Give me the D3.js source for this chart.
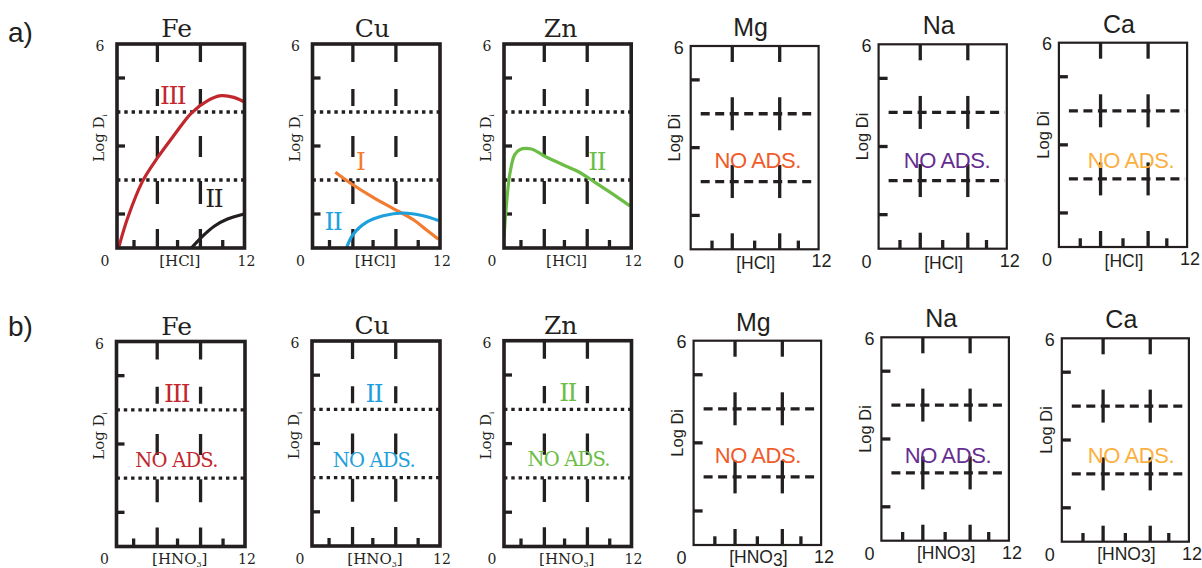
<!DOCTYPE html>
<html><head><meta charset="utf-8">
<script src="https://cdn.jsdelivr.net/npm/d3@7"></script>
<style>body{margin:0;background:#fff}svg{display:block}</style>
</head><body>
<svg id="chart" width="1202" height="568"></svg>
<script>
// ---------------- data ----------------
const elements = ["Fe", "Cu", "Zn", "Mg", "Na", "Ca"];
const rowTags = ["a)", "b)"];
const acidNames = ["HCl", "HNO"];      // row b gets subscript 3
const acidSub = ["", "3"];
const xDomain = [0, 12];
const yDomain = [0, 6];
const xEndLabels = ["0", "12"];
const yTopLabel = "6";
const yAxisTitle = "Log D";
const yAxisSub = "i";
const noAdsText = "NO ADS.";
const yTicks = [1, 3, 5];
const dividers = [2, 4];
const serifMajorX = [3.8, 7.85];
const serifMinorX = [1.6, 5.7, 9.95];
const sansMajorX = [3.9, 8.35];
const sansMinorX = [2, 6, 10.1];

// row a curves (HCl)
const feIII_x = [0.15, 1.0, 2.4, 3.8, 5.4, 7.0, 8.5, 9.8, 11.0, 11.95];
const feIII_y = [0.0, 0.88, 1.96, 2.65, 3.33, 3.97, 4.33, 4.48, 4.43, 4.3];
const feII_x = [7.0, 7.9, 9.15, 10.4, 11.95];
const feII_y = [0.0, 0.3, 0.64, 0.85, 1.0];
const cuI_x = [2.15, 3.8, 5.7, 7.6, 9.5, 10.7, 11.85];
const cuI_y = [2.23, 1.86, 1.49, 1.16, 0.83, 0.54, 0.26];
const cuII_x = [3.2, 3.8, 5.1, 6.65, 8.55, 10.4, 11.85];
const cuII_y = [0.0, 0.39, 0.76, 0.95, 1.03, 0.95, 0.81];
const znII_x = [0.0, 0.23, 0.54, 1.0, 1.48, 2.58, 3.84, 5.41, 6.98, 8.55, 10.1, 11.87];
const znII_y = [0.3, 1.27, 2.16, 2.74, 2.89, 2.91, 2.7, 2.47, 2.25, 1.94, 1.62, 1.24];

const curves = [
  {row: 0, el: "Fe", key: "FeIII", xs: feIII_x, ys: feIII_y},
  {row: 0, el: "Fe", key: "FeII",  xs: feII_x,  ys: feII_y},
  {row: 0, el: "Cu", key: "CuI",   xs: cuI_x,   ys: cuI_y},
  {row: 0, el: "Cu", key: "CuII",  xs: cuII_x,  ys: cuII_y},
  {row: 0, el: "Zn", key: "ZnII",  xs: znII_x,  ys: znII_y}
];
// curve / zone labels, positions in data units
const zoneLabels = [
  {row: 0, el: "Fe", key: "FeIII", text: "III", x: 5.24, y: 4.49},
  {row: 0, el: "Fe", key: "FeII",  text: "II",  x: 9.1,  y: 1.47},
  {row: 0, el: "Cu", key: "CuI",   text: "I",   x: 4.5,  y: 2.55},
  {row: 0, el: "Cu", key: "CuII",  text: "II",  x: 1.93, y: 0.8},
  {row: 0, el: "Zn", key: "ZnII",  text: "II",  x: 8.75, y: 2.57},
  {row: 1, el: "Fe", key: "FeIII", text: "III", x: 5.6,  y: 4.49},
  {row: 1, el: "Cu", key: "CuII",  text: "II",  x: 5.79, y: 4.47},
  {row: 1, el: "Zn", key: "ZnII",  text: "II",  x: 5.98, y: 4.49}
];
const noAdsLabels = [
  {row: 1, el: "Fe", key: "FeIII", x: 5.6,  y: 2.54},
  {row: 1, el: "Cu", key: "CuII",  x: 5.79, y: 2.52},
  {row: 1, el: "Zn", key: "ZnII",  x: 6.08, y: 2.54},
  {row: 0, el: "Mg", key: "Mg", x: 6.3,  y: 2.63},
  {row: 0, el: "Na", key: "Na", x: 6.4,  y: 2.6},
  {row: 0, el: "Ca", key: "Ca", x: 6.75, y: 2.56},
  {row: 1, el: "Mg", key: "Mg", x: 6.05, y: 2.64},
  {row: 1, el: "Na", key: "Na", x: 6.26, y: 2.53},
  {row: 1, el: "Ca", key: "Ca", x: 6.53, y: 2.55}
];

// ---------------- styles / layout ----------------
const colors = {FeIII: "#c1272d", FeII: "#231f20", CuI: "#f27c30", CuII: "#1ea0dc",
  ZnII: "#6cbd45", Mg: "#f15a29", Na: "#662d91", Ca: "#fbb040"};
const ink = "#231f20";
const SERIF = "'DejaVu Serif', serif";
const SANS = "'Liberation Sans', Arial, sans-serif";
const serifBoxes = [
  [{x0: 117, x1: 244.5, y0: 44, y1: 248}, {x0: 312.5, x1: 440, y0: 44, y1: 248}, {x0: 504, x1: 631.2, y0: 44, y1: 248}],
  [{x0: 116.5, x1: 245, y0: 341.5, y1: 546.5}, {x0: 312, x1: 440, y0: 341, y1: 546}, {x0: 504, x1: 631.5, y0: 340.7, y1: 546.5}]
];
const sansBoxes = [
  [{x0: 690.7, x1: 818.6, y0: 46, y1: 249.3}, {x0: 878.6, x1: 1006.8, y0: 44.3, y1: 248.7}, {x0: 1058.9, x1: 1187.1, y0: 42.7, y1: 247}],
  [{x0: 693.6, x1: 821.1, y0: 340.7, y1: 545}, {x0: 881.4, x1: 1008.9, y0: 337.3, y1: 540.7}, {x0: 1061.8, x1: 1188.9, y0: 338.3, y1: 541.7}]
];
const serifDash = [18, 27, 17, 30, 21, 24, 23, 25, 19];

const svg = d3.select("#chart");

// row tags
rowTags.forEach((t, i) => {
  svg.append("text").attr("x", 8).attr("y", i === 0 ? 41.5 : 335.5)
    .attr("font-family", SANS).attr("font-size", 28).attr("fill", ink).text(t);
});

function addAcid(sel, row, serif) {
  sel.append("tspan").text("[" + acidNames[row]);
  if (acidSub[row]) {
    if (serif) {
      sel.append("tspan").attr("font-size", 8).attr("dy", 3).text(acidSub[row]);
      sel.append("tspan").attr("dy", -3).text("]");
    } else {
      sel.append("tspan").attr("dy", 2.5).text(acidSub[row]);
      sel.append("tspan").attr("dy", -2.5).text("]");
    }
  } else sel.append("tspan").text("]");
}

let clipId = 0;
function panel(row, col, serif) {
  const b = serif ? serifBoxes[row][col] : sansBoxes[row][col - 3];
  const el = elements[col];
  const x = d3.scaleLinear().domain(xDomain).range([b.x0, b.x1]);
  const y = d3.scaleLinear().domain(yDomain).range([b.y1, b.y0]);
  const g = svg.append("g");
  const tickW = 3.3;
  const xc = (b.x0 + b.x1) / 2, ym = (b.y0 + b.y1) / 2;

  if (serif) {
    g.selectAll(".div").data(dividers).join("line")
      .attr("x1", x(xDomain[0])).attr("x2", x(xDomain[1]))
      .attr("y1", d => y(d)).attr("y2", d => y(d))
      .attr("stroke", ink).attr("stroke-width", 3.3).attr("stroke-dasharray", "3.4,3.9");
    const k = (b.y1 - b.y0) / 204;
    g.selectAll(".maj").data(serifMajorX).join("line")
      .attr("x1", d => x(d)).attr("x2", d => x(d))
      .attr("y1", y(yDomain[1])).attr("y2", y(yDomain[0]))
      .attr("stroke", ink).attr("stroke-width", tickW)
      .attr("stroke-dasharray", serifDash.map(v => v * k).join(","));
    g.selectAll(".min").data(serifMinorX).join("line")
      .attr("x1", d => x(d)).attr("x2", d => x(d))
      .attr("y1", y(0)).attr("y2", y(0) - 8)
      .attr("stroke", ink).attr("stroke-width", tickW);
    g.selectAll(".yt").data(yTicks).join("line")
      .attr("x1", x(0)).attr("x2", x(0) + 8)
      .attr("y1", d => y(d)).attr("y2", d => y(d))
      .attr("stroke", ink).attr("stroke-width", tickW);
  } else {
    g.selectAll(".div").data(dividers).join("line")
      .attr("x1", x(xDomain[0]) + 10).attr("x2", x(xDomain[1]) - 2)
      .attr("y1", d => y(d)).attr("y2", d => y(d))
      .attr("stroke", ink).attr("stroke-width", 3.3).attr("stroke-dasharray", "9,5.5");
    sansMajorX.forEach(m => {
      const segs = [[y(yDomain[1]), y(yDomain[1]) + 16], [y(yDomain[0]) - 16, y(yDomain[0])]]
        .concat(dividers.map(d => [y(d) - 16.5, y(d) + 16.5]));
      g.selectAll(null).data(segs).join("line")
        .attr("x1", x(m)).attr("x2", x(m))
        .attr("y1", s => s[0]).attr("y2", s => s[1])
        .attr("stroke", ink).attr("stroke-width", tickW);
    });
    g.selectAll(".min").data(sansMinorX).join("line")
      .attr("x1", d => x(d)).attr("x2", d => x(d))
      .attr("y1", y(0)).attr("y2", y(0) - 8.7)
      .attr("stroke", ink).attr("stroke-width", tickW);
    g.selectAll(".yt").data(yTicks).join("line")
      .attr("x1", x(0)).attr("x2", x(0) + 9)
      .attr("y1", d => y(d)).attr("y2", d => y(d))
      .attr("stroke", ink).attr("stroke-width", tickW);
  }

  // curves
  const cid = "clip" + (clipId++);
  svg.append("clipPath").attr("id", cid).append("rect")
    .attr("x", b.x0).attr("y", b.y0).attr("width", b.x1 - b.x0).attr("height", b.y1 - b.y0);
  const line = d3.line().x(d => x(d[0])).y(d => y(d[1])).curve(d3.curveCatmullRom.alpha(0.5));
  curves.filter(c => c.row === row && c.el === el).forEach(c => {
    g.append("path").attr("d", line(c.xs.map((v, i) => [v, c.ys[i]])))
      .attr("fill", "none").attr("stroke", colors[c.key]).attr("stroke-width", 3.2)
      .attr("stroke-linecap", "butt").attr("clip-path", `url(#${cid})`);
  });

  // box
  g.append("rect").attr("x", b.x0).attr("y", b.y0)
    .attr("width", b.x1 - b.x0).attr("height", b.y1 - b.y0)
    .attr("fill", "none").attr("stroke", ink).attr("stroke-width", serif ? 3.6 : 2.2);

  // labels
  const F = serif ? SERIF : SANS;
  const tickFs = serif ? 14 : 18;
  g.append("text").attr("x", xc - (col === 2 ? 7 : 4)).attr("y", b.y0 - (serif ? 7 : 10))
    .attr("text-anchor", "middle").attr("font-family", F).attr("font-size", serif ? 25 : 25)
    .attr("fill", ink).text(el);
  g.append("text").attr("x", b.x0 - (serif ? 17 : 12)).attr("y", b.y0 + (serif ? 7 : 7.5))
    .attr("text-anchor", "middle").attr("font-family", F).attr("font-size", tickFs)
    .attr("fill", ink).text(yTopLabel);
  g.append("text").attr("x", b.x0 - 12).attr("y", b.y1 + (serif ? 17.5 : 19))
    .attr("text-anchor", "middle").attr("font-family", F).attr("font-size", tickFs)
    .attr("fill", ink).text(xEndLabels[0]);
  g.append("text").attr("x", b.x1 + (serif ? 2 : 3)).attr("y", b.y1 + (serif ? 17.5 : 18))
    .attr("text-anchor", "middle").attr("font-family", F).attr("font-size", tickFs)
    .attr("fill", ink).text(xEndLabels[1]);
  const at = g.append("text").attr("x", xc + (serif ? -1 : 1))
    .attr("y", b.y1 + (serif ? 17.5 : (row === 1 ? 18 : 20)))
    .attr("text-anchor", "middle").attr("font-family", F).attr("font-size", serif ? 15 : 17.5)
    .attr("fill", ink);
  addAcid(at, row, serif);
  const yt = g.append("text")
    .attr("transform", `translate(${b.x0 - (serif ? 13 : 10.3)},${ym - (serif ? 8 : 10)}) rotate(-90)`)
    .attr("text-anchor", "middle").attr("font-family", F).attr("font-size", serif ? 15 : 16.5)
    .attr("fill", ink);
  yt.append("tspan").text(yAxisTitle);
  if (serif) yt.append("tspan").attr("font-size", 7).attr("dy", 3).text(yAxisSub);
  else yt.append("tspan").text(yAxisSub);

  zoneLabels.filter(l => l.row === row && l.el === el).forEach(l => {
    g.append("text").attr("x", x(l.x)).attr("y", y(l.y)).attr("dy", "0.36em")
      .attr("text-anchor", "middle").attr("font-family", SERIF).attr("font-size", 25)
      .attr("letter-spacing", -1.5).attr("fill", colors[l.key]).text(l.text);
  });
  noAdsLabels.filter(l => l.row === row && l.el === el).forEach(l => {
    g.append("text").attr("x", x(l.x)).attr("y", y(l.y)).attr("dy", "0.36em")
      .attr("text-anchor", "middle").attr("font-family", serif ? SERIF : SANS)
      .attr("font-size", serif ? 19.5 : 22).attr("letter-spacing", serif ? -0.8 : -0.4)
      .attr("fill", colors[l.key]).text(noAdsText);
  });
}

[0, 1].forEach(row => {
  elements.forEach((el, col) => panel(row, col, col < 3));
});
</script>
</body></html>
